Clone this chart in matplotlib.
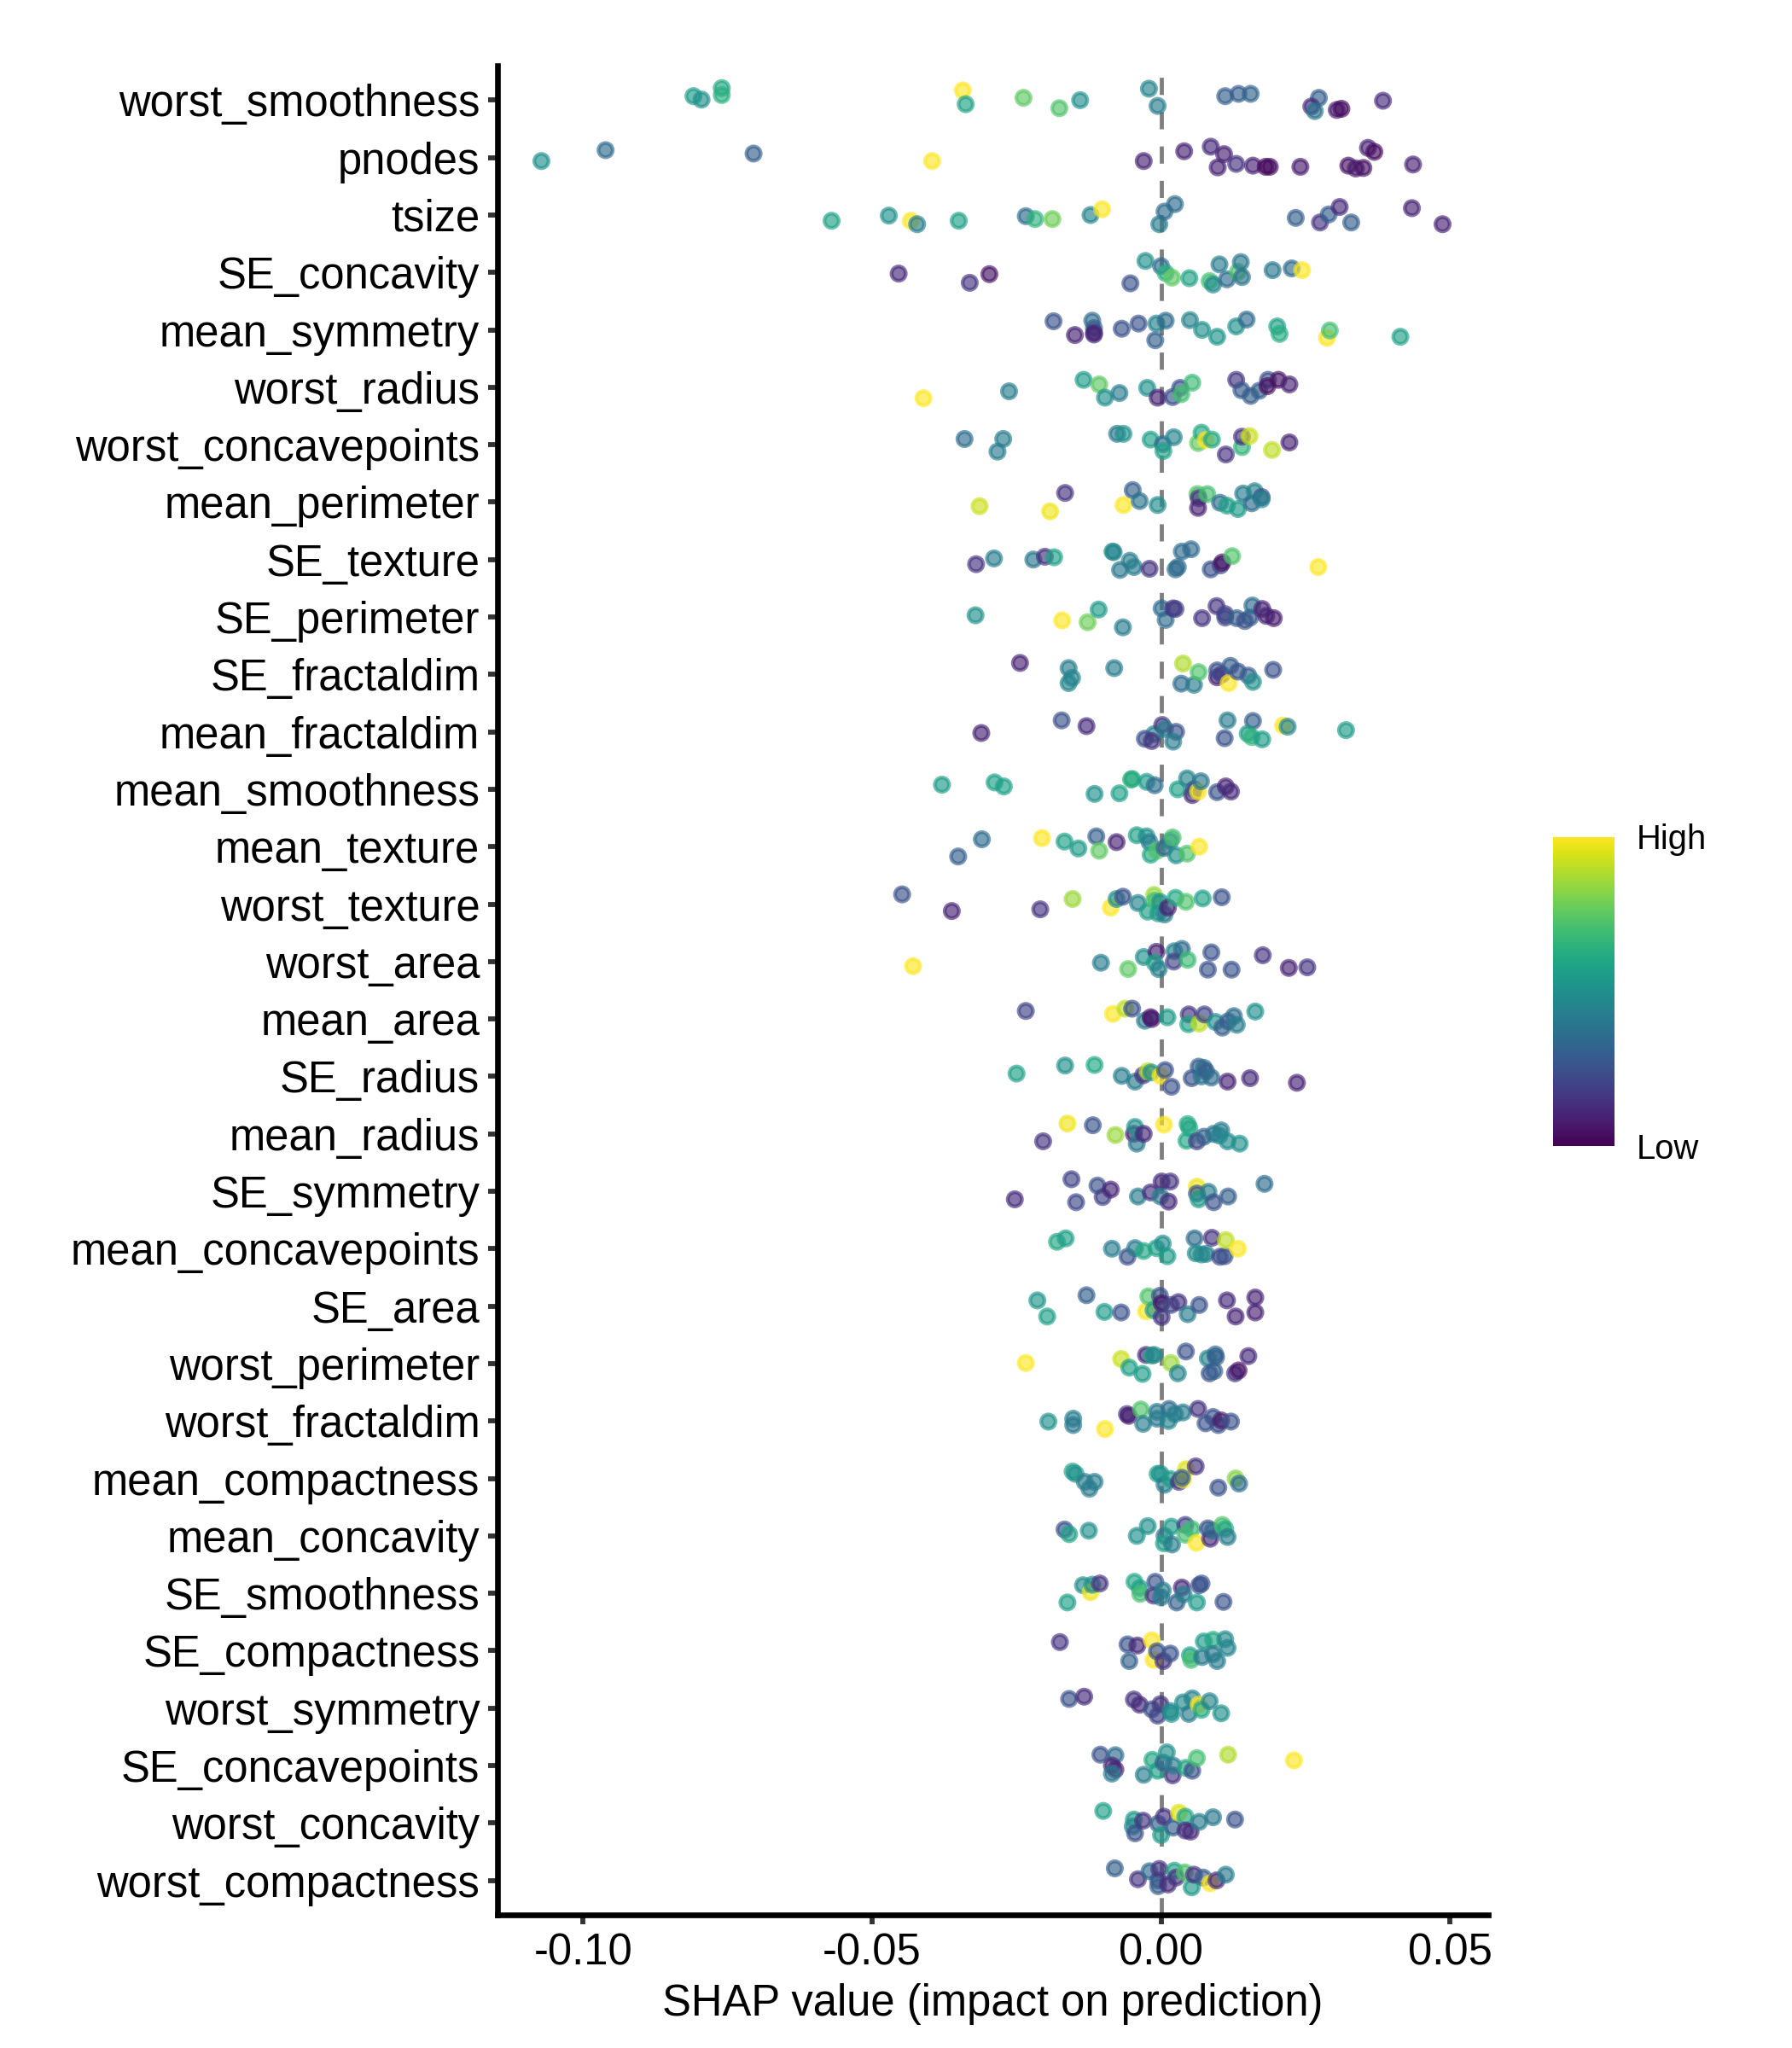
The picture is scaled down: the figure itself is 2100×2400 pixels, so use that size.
import numpy as np
import matplotlib.pyplot as plt

plt.rcParams['font.family'] = ['Liberation Sans', 'DejaVu Sans']
plt.rcParams['axes.unicode_minus'] = False

# features, top to bottom
FEATURES = [
    'worst_smoothness', 'pnodes', 'tsize', 'SE_concavity', 'mean_symmetry',
    'worst_radius', 'worst_concavepoints', 'mean_perimeter', 'SE_texture',
    'SE_perimeter', 'SE_fractaldim', 'mean_fractaldim', 'mean_smoothness',
    'mean_texture', 'worst_texture', 'worst_area', 'mean_area', 'SE_radius',
    'mean_radius', 'SE_symmetry', 'mean_concavepoints', 'SE_area',
    'worst_perimeter', 'worst_fractaldim', 'mean_compactness', 'mean_concavity',
    'SE_smoothness', 'SE_compactness', 'worst_symmetry', 'SE_concavepoints',
    'worst_concavity', 'worst_compactness',
]

# SHAP value of each sample, one list per feature
SHAP = [
    [-0.0809, -0.0795, -0.0760, -0.0760, -0.0343, -0.0338, -0.0238, -0.0176, -0.0140, -0.0021,
     -0.0006, 0.0111, 0.0134, 0.0155, 0.0273, 0.0260, 0.0266, 0.0304, 0.0312, 0.0384],
    [-0.1072, -0.0961, -0.0705, -0.0396, -0.0030, 0.0040, 0.0086, 0.0109, 0.0098, 0.0130,
     0.0159, 0.0181, 0.0188, 0.0241, 0.0324, 0.0358, 0.0369, 0.0337, 0.0350, 0.0436],
    [-0.0570, -0.0471, -0.0433, -0.0422, -0.0350, -0.0234, -0.0218, -0.0188, -0.0122, -0.0102,
     -0.0003, 0.0006, 0.0024, 0.0233, 0.0275, 0.0290, 0.0309, 0.0329, 0.0434, 0.0487],
    [-0.0454, -0.0331, -0.0297, -0.0053, -0.0027, 0.0000, 0.0008, 0.0019, 0.0049, 0.0084,
     0.0090, 0.0101, 0.0114, 0.0133, 0.0138, 0.0140, 0.0193, 0.0226, 0.0244],
    [-0.0186, -0.0149, -0.0119, -0.0116, -0.0116, -0.0116, -0.0068, -0.0039, -0.0010, -0.0008,
     0.0008, 0.0050, 0.0071, 0.0097, 0.0130, 0.0148, 0.0201, 0.0205, 0.0287, 0.0292, 0.0414],
    [-0.0411, -0.0263, -0.0134, -0.0107, -0.0097, -0.0072, -0.0024, -0.0006, 0.0020, 0.0033,
     0.0035, 0.0054, 0.0130, 0.0139, 0.0155, 0.0170, 0.0185, 0.0184, 0.0203, 0.0222],
    [-0.0340, -0.0273, -0.0283, -0.0076, -0.0065, -0.0018, 0.0003, 0.0004, 0.0022, 0.0064,
     0.0070, 0.0077, 0.0088, 0.0112, 0.0140, 0.0140, 0.0153, 0.0192, 0.0222],
    [-0.0314, -0.0192, -0.0166, -0.0065, -0.0049, -0.0037, -0.0006, 0.0063, 0.0065, 0.0064,
     0.0080, 0.0102, 0.0114, 0.0133, 0.0142, 0.0157, 0.0162, 0.0174, 0.0174],
    [-0.0320, -0.0289, -0.0221, -0.0201, -0.0185, -0.0084, -0.0082, -0.0054, -0.0071, -0.0047,
     -0.0020, 0.0025, 0.0029, 0.0036, 0.0052, 0.0086, 0.0103, 0.0106, 0.0123, 0.0272],
    [-0.0321, -0.0171, -0.0127, -0.0108, -0.0066, 0.0001, 0.0008, 0.0021, 0.0025, 0.0071,
     0.0096, 0.0111, 0.0111, 0.0131, 0.0145, 0.0154, 0.0158, 0.0175, 0.0182, 0.0195],
    [-0.0244, -0.0160, -0.0154, -0.0160, -0.0081, 0.0038, 0.0035, 0.0057, 0.0065, 0.0097,
     0.0097, 0.0105, 0.0117, 0.0120, 0.0133, 0.0151, 0.0159, 0.0194],
    [-0.0311, -0.0172, -0.0129, -0.0012, 0.0002, 0.0007, 0.0026, -0.0028, -0.0016, 0.0021,
     0.0115, 0.0110, 0.0159, 0.0150, 0.0157, 0.0175, 0.0211, 0.0219, 0.0320],
    [-0.0379, -0.0288, -0.0272, -0.0115, -0.0072, -0.0052, -0.0050, -0.0025, -0.0011, 0.0029,
     0.0045, 0.0054, 0.0057, 0.0064, 0.0069, 0.0097, 0.0112, 0.0121],
    [-0.0351, -0.0310, -0.0206, -0.0167, -0.0143, -0.0112, -0.0107, -0.0077, -0.0042, -0.0025,
     -0.0020, -0.0018, -0.0007, 0.0006, 0.0016, 0.0020, 0.0026, 0.0045, 0.0066],
    [-0.0448, -0.0362, -0.0209, -0.0153, -0.0087, -0.0077, -0.0066, -0.0040, -0.0023, -0.0012,
     -0.0011, -0.0002, -0.0005, 0.0006, 0.0012, 0.0025, 0.0043, 0.0072, 0.0105],
    [-0.0429, -0.0104, -0.0057, -0.0030, -0.0008, -0.0011, -0.0004, 0.0023, 0.0036, 0.0022,
     0.0046, 0.0087, 0.0081, 0.0122, 0.0176, 0.0221, 0.0253],
    [-0.0234, -0.0083, -0.0062, -0.0050, -0.0028, -0.0018, -0.0016, 0.0011, 0.0048, 0.0047,
     0.0066, 0.0075, 0.0094, 0.0106, 0.0116, 0.0126, 0.0131, 0.0163],
    [-0.0250, -0.0166, -0.0115, -0.0068, -0.0045, -0.0031, -0.0023, -0.0017, -0.0001, 0.0007,
     0.0018, 0.0053, 0.0065, 0.0074, 0.0070, 0.0078, 0.0087, 0.0115, 0.0154, 0.0235],
    [-0.0204, -0.0162, -0.0118, -0.0079, -0.0047, -0.0045, -0.0042, -0.0030, 0.0005, 0.0046,
     0.0049, 0.0044, 0.0062, 0.0074, 0.0091, 0.0104, 0.0101, 0.0115, 0.0136],
    [-0.0253, -0.0155, -0.0147, -0.0110, -0.0101, -0.0087, -0.0040, -0.0018, 0.0001, 0.0016,
     -0.0001, 0.0013, 0.0062, 0.0062, 0.0065, 0.0082, 0.0091, 0.0116, 0.0179],
    [-0.0180, -0.0165, -0.0085, -0.0058, -0.0045, -0.0030, -0.0008, 0.0003, 0.0011, 0.0058,
     0.0060, 0.0070, 0.0078, 0.0088, 0.0102, 0.0110, 0.0112, 0.0133],
    [-0.0214, -0.0197, -0.0129, -0.0098, -0.0069, -0.0026, -0.0022, -0.0013, -0.0002, 0.0001,
     0.0001, 0.0017, 0.0030, 0.0046, 0.0066, 0.0114, 0.0129, 0.0163, 0.0163],
    [-0.0234, -0.0069, -0.0055, -0.0032, -0.0026, -0.0016, -0.0012, 0.0017, 0.0029, 0.0043,
     0.0081, 0.0094, 0.0095, 0.0084, 0.0092, 0.0128, 0.0134, 0.0151],
    [-0.0195, -0.0152, -0.0152, -0.0097, -0.0059, -0.0056, -0.0035, -0.0031, -0.0007, -0.0007,
     0.0014, 0.0013, 0.0024, 0.0038, 0.0064, 0.0077, 0.0090, 0.0099, 0.0104, 0.0121],
    [-0.0153, -0.0148, -0.0132, -0.0124, -0.0115, -0.0006, -0.0001, 0.0006, 0.0016, 0.0031,
     0.0038, 0.0043, 0.0060, 0.0036, 0.0099, 0.0129, 0.0135],
    [-0.0167, -0.0159, -0.0125, -0.0042, -0.0023, 0.0006, 0.0005, 0.0018, 0.0019, 0.0042,
     0.0042, 0.0053, 0.0061, 0.0081, 0.0085, 0.0089, 0.0106, 0.0111, 0.0115],
    [-0.0162, -0.0135, -0.0122, -0.0119, -0.0106, -0.0046, -0.0037, -0.0036, -0.0013, -0.0010,
     0.0000, 0.0003, 0.0027, 0.0036, 0.0039, 0.0062, 0.0066, 0.0070, 0.0108],
    [-0.0175, -0.0058, -0.0055, -0.0041, -0.0016, -0.0013, -0.0007, 0.0004, 0.0016, 0.0050,
     0.0052, 0.0071, 0.0074, 0.0090, 0.0090, 0.0097, 0.0111, 0.0115],
    [-0.0159, -0.0133, -0.0047, -0.0037, -0.0016, -0.0001, -0.0006, 0.0016, 0.0018, 0.0038,
     0.0048, 0.0054, 0.0065, 0.0070, 0.0084, 0.0104],
    [-0.0105, -0.0079, -0.0085, -0.0079, -0.0085, -0.0030, -0.0015, -0.0006, 0.0004, 0.0010,
     0.0020, 0.0021, 0.0043, 0.0054, 0.0062, 0.0116, 0.0230],
    [-0.0100, -0.0047, -0.0049, -0.0045, -0.0031, -0.0005, 0.0000, 0.0005, 0.0021, 0.0031,
     0.0042, 0.0042, 0.0051, 0.0066, 0.0090, 0.0128],
    [-0.0080, -0.0040, -0.0020, -0.0005, -0.0003, -0.0005, 0.0012, 0.0023, 0.0026, 0.0041,
     0.0053, 0.0057, 0.0073, 0.0085, 0.0096, 0.0112],
]

# vertical jitter of each point (in row units)
JITTER = [
    [0.07, 0.01, 0.21, 0.09, 0.17, -0.07, 0.04, -0.14, 0.00, 0.20, -0.10, 0.07, 0.11, 0.11, 0.04, -0.11, -0.19, -0.17, -0.15, -0.01],
    [-0.06, 0.13, 0.07, -0.06, -0.06, 0.11, 0.19, 0.06, -0.17, -0.11, -0.14, -0.16, -0.16, -0.16, -0.14, 0.17, 0.10, -0.19, -0.18, -0.12],
    [-0.10, -0.01, -0.10, -0.16, -0.10, -0.02, -0.07, -0.07, 0.00, 0.10, -0.16, 0.06, 0.19, -0.05, -0.13, 0.01, 0.14, -0.13, 0.12, -0.16],
    [-0.02, -0.18, -0.03, -0.19, 0.20, 0.11, -0.01, -0.09, -0.10, -0.15, -0.21, 0.14, -0.12, 0.01, 0.18, -0.08, 0.04, 0.07, 0.04],
    [0.15, -0.09, 0.16, 0.03, -0.05, -0.08, 0.02, 0.11, -0.18, 0.11, 0.16, 0.17, 0.00, -0.12, 0.06, 0.18, 0.06, -0.07, -0.14, -0.01, -0.12],
    [-0.19, -0.07, 0.13, 0.05, -0.18, -0.10, -0.01, -0.18, -0.17, -0.01, -0.12, 0.08, 0.13, -0.05, -0.15, -0.06, 0.13, 0.02, 0.13, 0.05],
    [0.10, 0.10, -0.12, 0.19, 0.19, 0.09, 0.01, -0.11, 0.13, 0.03, 0.21, 0.08, 0.09, -0.17, -0.04, 0.14, 0.15, -0.09, 0.04],
    [-0.07, -0.16, 0.16, -0.05, 0.21, 0.02, -0.05, 0.14, 0.07, -0.10, 0.14, -0.01, -0.06, -0.12, 0.15, -0.02, 0.19, 0.09, 0.05],
    [-0.08, 0.02, 0.00, 0.05, 0.04, 0.14, 0.13, -0.02, -0.18, -0.13, -0.16, -0.17, -0.13, 0.14, 0.18, -0.17, -0.10, -0.05, 0.06, -0.13],
    [0.03, -0.06, -0.09, 0.13, -0.18, 0.15, -0.05, 0.15, 0.14, -0.02, 0.19, 0.05, -0.01, -0.02, -0.07, -0.01, 0.20, 0.14, 0.02, -0.02],
    [0.20, 0.11, -0.06, -0.15, 0.11, 0.19, -0.16, -0.18, 0.04, -0.05, 0.07, 0.00, -0.15, 0.15, 0.05, -0.02, -0.13, 0.08],
    [-0.02, 0.20, 0.10, -0.04, 0.12, 0.05, 0.00, -0.12, -0.16, -0.17, 0.20, -0.11, 0.19, -0.03, -0.09, -0.13, 0.11, 0.09, 0.03],
    [0.08, 0.12, 0.05, -0.08, -0.07, 0.17, 0.18, 0.13, 0.07, 0.00, 0.19, -0.10, 0.00, -0.04, 0.14, -0.05, 0.05, -0.04],
    [-0.17, 0.13, 0.15, 0.09, -0.03, 0.18, -0.07, 0.08, 0.20, 0.18, 0.08, -0.14, -0.07, -0.02, 0.10, 0.16, -0.15, -0.12, 0.00],
    [0.17, -0.12, -0.09, 0.09, -0.06, 0.09, 0.13, 0.02, -0.13, 0.16, 0.06, 0.04, -0.16, -0.18, -0.06, 0.11, 0.04, 0.10, 0.12],
    [-0.08, -0.02, -0.13, 0.08, 0.17, -0.02, -0.13, 0.18, 0.22, 0.00, 0.03, 0.16, -0.14, -0.14, 0.11, -0.11, -0.10],
    [0.14, 0.09, 0.18, 0.18, -0.03, 0.03, 0.00, 0.03, 0.08, -0.09, -0.08, 0.08, -0.05, -0.15, -0.04, 0.05, -0.10, 0.13],
    [0.05, 0.19, 0.20, 0.01, -0.09, 0.02, 0.09, 0.07, 0.01, 0.11, -0.18, -0.03, 0.17, 0.15, 0.00, 0.09, -0.02, -0.09, -0.03, -0.11],
    [-0.13, 0.18, 0.15, -0.02, 0.00, 0.12, -0.17, 0.00, 0.16, 0.17, 0.10, -0.12, -0.13, -0.05, 0.00, 0.06, -0.03, -0.13, -0.17],
    [-0.14, 0.21, -0.19, 0.10, -0.10, 0.03, -0.09, -0.02, 0.17, 0.17, -0.09, -0.18, 0.08, -0.04, -0.14, -0.01, -0.19, -0.09, 0.13],
    [0.12, 0.18, 0.00, -0.14, 0.01, -0.04, 0.01, 0.09, -0.13, 0.18, -0.08, -0.10, -0.09, 0.19, -0.14, -0.13, 0.15, 0.00],
    [0.10, -0.18, 0.19, -0.10, -0.11, -0.09, 0.17, -0.07, 0.18, 0.05, -0.19, 0.02, 0.07, -0.14, 0.02, 0.10, -0.18, 0.15, -0.11],
    [0.01, 0.08, -0.07, -0.18, 0.15, 0.14, 0.15, 0.01, -0.17, 0.21, 0.09, 0.16, 0.11, -0.17, -0.13, -0.17, -0.12, 0.13],
    [-0.01, 0.04, -0.07, -0.14, 0.12, 0.09, 0.20, -0.05, 0.16, 0.04, 0.21, 0.00, 0.12, 0.15, 0.21, -0.04, 0.07, -0.07, 0.01, -0.01],
    [0.12, 0.08, -0.06, -0.18, -0.06, 0.08, 0.08, -0.11, -0.01, -0.06, -0.02, 0.16, 0.21, 0.01, -0.16, 0.00, -0.09],
    [0.11, 0.03, 0.09, 0.00, 0.17, 0.00, -0.13, 0.16, -0.15, 0.19, 0.02, 0.12, -0.12, 0.13, -0.05, 0.09, 0.19, 0.12, -0.02],
    [-0.16, 0.14, 0.02, 0.15, 0.17, 0.20, 0.09, -0.01, -0.04, 0.20, -0.07, 0.05, -0.16, 0.10, -0.02, -0.16, 0.14, 0.17, -0.15],
    [0.15, 0.11, -0.18, 0.09, 0.18, -0.16, -0.01, -0.18, -0.05, -0.08, -0.16, -0.11, 0.16, 0.19, -0.06, -0.18, 0.20, 0.05],
    [0.16, 0.20, 0.15, 0.06, -0.02, 0.07, -0.13, -0.05, -0.10, 0.10, -0.10, 0.17, 0.06, -0.03, 0.12, -0.09],
    [0.19, 0.18, 0.00, -0.07, -0.14, -0.16, 0.10, -0.09, 0.05, 0.23, -0.17, 0.00, -0.04, -0.09, 0.13, 0.19, 0.09],
    [0.21, 0.06, -0.06, -0.18, 0.04, -0.01, -0.21, 0.11, -0.08, 0.18, 0.11, -0.13, -0.15, 0.02, 0.10, 0.06],
    [0.21, 0.02, 0.16, 0.00, 0.20, -0.10, -0.07, 0.17, 0.05, 0.14, -0.12, 0.10, 0.05, -0.05, 0.00, 0.10],
]

# scaled feature value (0 = low, 1 = high) that sets the colour
FEATURE_VALUE = [
    [0.55, 0.50, 0.60, 0.63, 1.00, 0.58, 0.75, 0.72, 0.50, 0.45, 0.42, 0.30, 0.30, 0.32, 0.30, 0.12, 0.38, 0.08, 0.03, 0.12],
    [0.50, 0.35, 0.30, 1.00, 0.10, 0.10, 0.12, 0.10, 0.10, 0.15, 0.10, 0.02, 0.03, 0.08, 0.05, 0.10, 0.03, 0.08, 0.05, 0.10],
    [0.58, 0.50, 1.00, 0.42, 0.57, 0.35, 0.65, 0.78, 0.45, 1.00, 0.42, 0.35, 0.35, 0.30, 0.15, 0.30, 0.12, 0.30, 0.10, 0.10],
    [0.12, 0.15, 0.05, 0.25, 0.50, 0.35, 0.62, 0.75, 0.58, 0.70, 0.48, 0.42, 0.35, 0.72, 0.40, 0.38, 0.40, 0.35, 1.00],
    [0.25, 0.10, 0.35, 0.30, 0.15, 0.10, 0.25, 0.25, 0.30, 0.45, 0.35, 0.45, 0.50, 0.52, 0.50, 0.35, 0.57, 0.62, 1.00, 0.70, 0.57],
    [1.00, 0.42, 0.55, 0.75, 0.50, 0.42, 0.50, 0.10, 0.25, 0.25, 0.70, 0.68, 0.15, 0.28, 0.30, 0.30, 0.25, 0.05, 0.05, 0.10],
    [0.35, 0.42, 0.42, 0.40, 0.50, 0.57, 0.35, 0.58, 0.45, 0.75, 0.60, 1.00, 0.60, 0.15, 0.65, 0.15, 0.92, 0.90, 0.10],
    [0.92, 0.98, 0.15, 1.00, 0.30, 0.38, 0.48, 0.72, 0.15, 0.10, 0.70, 0.35, 0.57, 0.55, 0.42, 0.35, 0.45, 0.22, 0.45],
    [0.15, 0.42, 0.40, 0.15, 0.57, 0.50, 0.45, 0.42, 0.40, 0.42, 0.15, 0.35, 0.35, 0.35, 0.35, 0.25, 0.20, 0.05, 0.72, 1.00],
    [0.50, 1.00, 0.78, 0.55, 0.42, 0.35, 0.35, 0.12, 0.20, 0.15, 0.15, 0.20, 0.20, 0.30, 0.25, 0.28, 0.35, 0.10, 0.10, 0.08],
    [0.10, 0.42, 0.45, 0.45, 0.42, 0.88, 0.35, 0.42, 0.72, 0.10, 0.25, 0.18, 1.00, 0.30, 0.25, 0.30, 0.50, 0.25],
    [0.10, 0.25, 0.12, 0.45, 0.15, 0.42, 0.25, 0.25, 0.15, 0.42, 0.42, 0.25, 0.30, 0.55, 0.65, 0.55, 1.00, 0.45, 0.55],
    [0.55, 0.57, 0.57, 0.50, 0.57, 0.70, 0.60, 0.55, 0.35, 0.57, 0.45, 0.12, 0.25, 1.00, 0.40, 0.25, 0.10, 0.12],
    [0.30, 0.35, 1.00, 0.57, 0.55, 0.30, 0.75, 0.10, 0.57, 0.50, 0.42, 0.60, 0.72, 0.30, 0.42, 0.70, 0.50, 0.72, 1.00],
    [0.25, 0.10, 0.15, 0.85, 1.00, 0.50, 0.25, 0.45, 0.57, 0.85, 0.70, 0.50, 0.55, 0.42, 0.10, 0.60, 0.72, 0.57, 0.25],
    [1.00, 0.42, 0.75, 0.50, 0.10, 0.57, 0.42, 0.45, 0.35, 0.20, 0.68, 0.25, 0.25, 0.25, 0.15, 0.10, 0.15],
    [0.20, 1.00, 0.90, 0.25, 0.42, 0.05, 0.08, 0.55, 0.15, 0.57, 0.90, 0.20, 0.50, 0.30, 0.30, 0.35, 0.42, 0.50],
    [0.57, 0.50, 0.60, 0.42, 0.42, 0.15, 0.90, 0.50, 1.00, 0.25, 0.25, 0.25, 0.30, 0.35, 0.40, 0.30, 0.35, 0.10, 0.12, 0.10],
    [0.15, 0.98, 0.25, 0.85, 0.10, 0.50, 0.40, 0.12, 1.00, 0.60, 0.60, 0.60, 0.20, 0.30, 0.38, 0.42, 0.45, 0.48, 0.50],
    [0.12, 0.20, 0.22, 0.25, 0.20, 0.10, 0.42, 0.15, 0.12, 0.15, 0.42, 0.12, 0.98, 0.25, 0.55, 0.42, 0.25, 0.30, 0.35],
    [0.60, 0.57, 0.42, 0.25, 0.42, 0.60, 0.58, 0.48, 0.55, 0.35, 0.48, 0.48, 0.45, 0.15, 0.22, 0.25, 0.90, 1.00],
    [0.52, 0.57, 0.30, 0.55, 0.25, 1.00, 0.72, 0.55, 0.25, 0.05, 0.15, 0.22, 0.15, 0.42, 0.25, 0.12, 0.10, 0.10, 0.10],
    [1.00, 0.92, 0.57, 0.55, 0.12, 0.60, 0.45, 0.85, 0.45, 0.25, 0.45, 0.35, 0.30, 0.25, 0.30, 0.15, 0.05, 0.12],
    [0.50, 0.42, 0.40, 1.00, 0.15, 0.08, 0.72, 0.42, 0.40, 0.42, 0.35, 0.45, 0.42, 0.42, 0.15, 0.25, 0.25, 0.25, 0.08, 0.25],
    [0.57, 0.50, 0.42, 0.42, 0.42, 0.57, 0.50, 0.42, 0.55, 0.15, 1.00, 0.95, 0.15, 0.30, 0.25, 0.82, 0.35],
    [0.25, 0.57, 0.50, 0.50, 0.50, 0.38, 0.57, 0.55, 0.42, 0.20, 0.70, 0.68, 1.00, 0.25, 0.12, 0.35, 0.72, 0.60, 0.42],
    [0.57, 0.48, 0.98, 0.50, 0.15, 0.60, 0.57, 0.70, 0.15, 0.25, 0.42, 0.42, 0.30, 0.12, 0.42, 0.55, 0.25, 0.25, 0.25],
    [0.15, 0.25, 0.30, 0.12, 1.00, 1.00, 0.25, 0.15, 0.25, 0.57, 0.70, 0.40, 0.55, 0.60, 0.40, 0.42, 0.48, 0.45],
    [0.25, 0.12, 0.15, 0.12, 0.25, 0.15, 0.20, 0.45, 0.50, 0.48, 0.42, 0.45, 1.00, 0.60, 0.45, 0.50],
    [0.25, 0.35, 0.12, 0.10, 0.40, 0.42, 0.60, 0.57, 0.30, 0.50, 0.15, 0.42, 0.60, 0.25, 0.70, 0.88, 1.00],
    [0.57, 0.55, 0.48, 0.25, 0.15, 0.30, 0.55, 0.15, 0.30, 0.95, 0.60, 0.15, 0.12, 0.42, 0.40, 0.25],
    [0.30, 0.15, 0.35, 0.25, 0.15, 0.30, 0.12, 0.57, 0.15, 0.72, 0.55, 0.15, 0.30, 1.00, 0.12, 0.42],
]

X_TICKS = [-0.10, -0.05, 0.00, 0.05]
X_TICK_LABELS = ['-0.10', '-0.05', '0.00', '0.05']

W, H = 2100, 2400
fig = plt.figure(figsize=(7, 8), dpi=300)
ax = fig.add_axes([583 / W, 1 - 2244 / H, (1744 - 583) / W, (2244 - 77) / H])

n = len(FEATURES)
for i in range(n):
    y = (n - 1 - i) + np.array(JITTER[i])
    ax.scatter(SHAP[i], y, c=FEATURE_VALUE[i], cmap='viridis', vmin=0, vmax=1,
               s=16, alpha=0.65, edgecolors='face', linewidths=1.05, zorder=3)

ax.axvline(0, color='#7f7f7f', lw=1.15, linestyle=(0, (4.2, 4.2)), zorder=2)

ax.set_xlim(-0.1148, 0.0566)
ax.set_ylim(-0.6, n - 0.4)
ax.set_yticks(range(n))
ax.set_yticklabels(FEATURES[::-1], fontsize=12.2, color='black')
ax.set_xticks(X_TICKS)
ax.set_xticklabels(X_TICK_LABELS, fontsize=12.2, color='black')
ax.set_xlabel('SHAP value (impact on prediction)', fontsize=12.2, labelpad=2.5)

for side in ['top', 'right']:
    ax.spines[side].set_visible(False)
for side in ['left', 'bottom']:
    ax.spines[side].set_linewidth(1.6)
    ax.spines[side].set_color('black')
ax.tick_params(length=2.75, width=1.4, color='#333333', pad=2.2)

# colour bar
cax = fig.add_axes([1820 / W, 1 - 1343 / H, 72 / W, 362 / H])
cax.imshow(np.linspace(1, 0, 256).reshape(-1, 1), aspect='auto', cmap='viridis')
cax.set_axis_off()
fig.text(1918 / W, 1 - 995 / H, 'High', fontsize=9.6, va='baseline', ha='left')
fig.text(1918 / W, 1 - 1358 / H, 'Low', fontsize=9.6, va='baseline', ha='left')

fig.savefig('out.png', dpi=300)
